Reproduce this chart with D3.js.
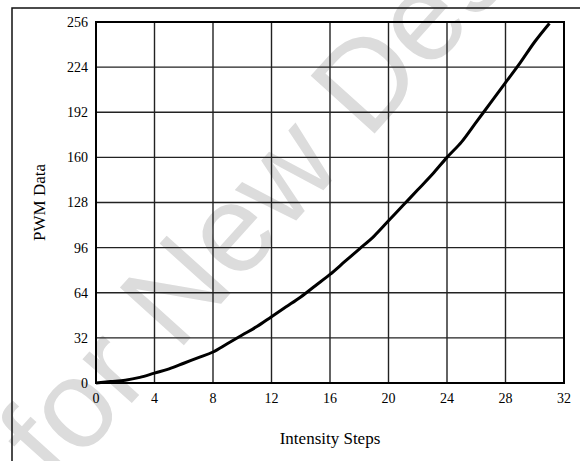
<!DOCTYPE html>
<html>
<head>
<meta charset="utf-8">
<script src="https://cdn.jsdelivr.net/npm/d3@7"></script>
<style>
  body { margin: 0; background: #fff; }
  svg text { font-family: "Liberation Serif", "Times New Roman", serif; }
</style>
</head>
<body>
<div id="viz"><svg></svg></div>
<script>
const steps = d3.range(0, 32);
const pwm = [0, 1, 2, 4, 7, 10, 14, 18, 22, 28, 34, 40, 47, 54, 61, 69,
             77, 86, 95, 104, 115, 126, 137, 148, 160, 171, 185, 199, 213, 227, 242, 255];
const xTicks = [0, 4, 8, 12, 16, 20, 24, 28, 32];
const yTicks = [0, 32, 64, 96, 128, 160, 192, 224, 256];

const SETTINGS = {
    width: 580,
    height: 461,
    margin: {top: 22, right: 16, bottom: 78, left: 96},
    markSize: 125,
    markAngle: -48
};

let svg = d3.select('#viz').select('svg')
    .attr('width', SETTINGS.width)
    .attr('height', SETTINGS.height);

let x = d3.scaleLinear().domain([0, 32])
    .range([SETTINGS.margin.left, SETTINGS.width - SETTINGS.margin.right]);
let y = d3.scaleLinear().domain([0, 256])
    .range([SETTINGS.height - SETTINGS.margin.bottom, SETTINGS.margin.top]);

// watermark: put the "N" of "New" where it sits in the picture
function watermark(){
    let prefix = 'Not Recommended for ';
    let s = SETTINGS.markSize;
    let tmp = svg.append('text')
        .attr('font-size', s)
        .style('font-family', '"Liberation Sans", Arial, sans-serif')
        .text(prefix);
    let L = tmp.node().getComputedTextLength();
    tmp.remove();

    let a = SETTINGS.markAngle * Math.PI / 180;
    let ux = Math.cos(a), uy = Math.sin(a);
    let nx = 184, ny = 345;   // baseline under middle of "N"
    let sx = nx - (L + 0.36 * s) * ux;
    let sy = ny - (L + 0.36 * s) * uy;

    svg.append('text')
        .attr('transform', `translate(${sx},${sy}) rotate(${SETTINGS.markAngle})`)
        .attr('font-size', s)
        .style('font-family', '"Liberation Sans", Arial, sans-serif')
        .attr('fill', '#dcdcdc')
        .text('Not Recommended for New Designs');
}
watermark();

// outer frame
svg.append('rect')
    .attr('x', 12).attr('y', 8)
    .attr('width', 700).attr('height', 600)
    .attr('fill', 'none')
    .attr('stroke', '#111')
    .attr('stroke-width', 1.5);

// grid
svg.append('g').selectAll('line')
    .data(xTicks.slice(1, -1))
    .enter().append('line')
    .attr('x1', d => x(d)).attr('x2', d => x(d))
    .attr('y1', y(0)).attr('y2', y(256))
    .attr('stroke', '#222').attr('stroke-width', 1.4);

svg.append('g').selectAll('line')
    .data(yTicks.slice(1, -1))
    .enter().append('line')
    .attr('y1', d => y(d)).attr('y2', d => y(d))
    .attr('x1', x(0)).attr('x2', x(32))
    .attr('stroke', '#222').attr('stroke-width', 1.4);

// plot border
svg.append('rect')
    .attr('x', x(0)).attr('y', y(256))
    .attr('width', x(32) - x(0)).attr('height', y(0) - y(256))
    .attr('fill', 'none')
    .attr('stroke', '#000')
    .attr('stroke-width', 2);

// curve
let line = d3.line()
    .x((d, i) => x(steps[i]))
    .y(d => y(d))
    .curve(d3.curveMonotoneX);

svg.append('path')
    .datum(pwm)
    .attr('d', line)
    .attr('fill', 'none')
    .attr('stroke', '#000')
    .attr('stroke-width', 3);

// tick labels
svg.append('g').selectAll('text')
    .data(xTicks)
    .enter().append('text')
    .attr('x', d => x(d))
    .attr('y', y(0) + 20)
    .attr('text-anchor', 'middle')
    .attr('font-size', 14)
    .text(d => d);

svg.append('g').selectAll('text')
    .data(yTicks)
    .enter().append('text')
    .attr('x', x(0) - 8)
    .attr('y', d => y(d))
    .attr('dy', '0.35em')
    .attr('text-anchor', 'end')
    .attr('font-size', 14)
    .text(d => d);

// axis titles
svg.append('text')
    .attr('x', (x(0) + x(32)) / 2)
    .attr('y', 444)
    .attr('text-anchor', 'middle')
    .attr('font-size', 17)
    .text('Intensity Steps');

svg.append('text')
    .attr('transform', `translate(45,${(y(0) + y(256)) / 2}) rotate(-90)`)
    .attr('text-anchor', 'middle')
    .attr('font-size', 17)
    .text('PWM Data');
</script>
</body>
</html>
